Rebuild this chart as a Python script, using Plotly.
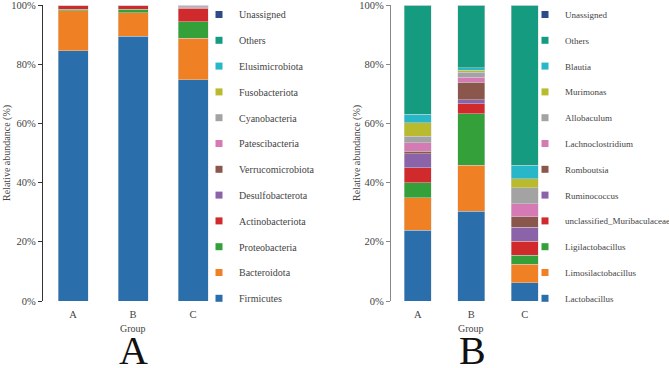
import plotly.graph_objects as go

groups = ["A", "B", "C"]

phyla = ["Firmicutes", "Bacteroidota", "Proteobacteria", "Actinobacteriota",
         "Desulfobacterota", "Verrucomicrobiota", "Patescibacteria", "Cyanobacteria",
         "Fusobacteriota", "Elusimicrobiota", "Others", "Unassigned"]
phylum_A = [84.5, 13.6, 0.45, 1.15, 0.05, 0.05, 0.02, 0.10, 0.01, 0.01, 0.05, 0.01]
phylum_B = [89.5, 7.9, 1.25, 1.05, 0.05, 0.03, 0.02, 0.10, 0.01, 0.01, 0.07, 0.01]
phylum_C = [74.7, 14.1, 5.6, 4.5, 0.30, 0.45, 0.05, 0.20, 0.01, 0.01, 0.07, 0.01]

genera = ["Lactobacillus", "Limosilactobacillus", "Ligilactobacillus",
          "unclassified_Muribaculaceae", "Ruminococcus", "Romboutsia",
          "Lachnoclostridium", "Allobaculum", "Murimonas", "Blautia", "Others", "Unassigned"]
genus_A = [23.9, 10.9, 5.2, 5.0, 4.7, 0.9, 2.9, 2.2, 4.6, 2.8, 36.9, 0.0]
genus_B = [30.3, 15.5, 17.4, 3.4, 1.35, 5.9, 1.8, 1.6, 0.7, 0.8, 21.25, 0.0]
genus_C = [6.2, 6.3, 2.9, 4.8, 4.8, 3.4, 4.5, 5.4, 3.0, 4.5, 54.2, 0.0]

y_ticks = [0, 20, 40, 60, 80, 100]
y_tick_labels = ["0%", "20%", "40%", "60%", "80%", "100%"]

colors = ["#2a6eab", "#f08024", "#33a03a", "#d12a2c", "#8a63a9", "#8b574d",
          "#d57ab5", "#a3a3a3", "#b9ba2e", "#27b7c9", "#159b80", "#2c4b87"]

W, H = 669, 368
FONT = "Liberation Serif, Times New Roman, serif"

def px_x(p):
    return p / W

def px_y(p):
    return 1 - p / H

fig = go.Figure()

def add_panel(names, vals_by_group, xa, ya, legend_name):
    n = len(names)
    for i, name in enumerate(names):
        vals = [vg[i] for vg in vals_by_group]
        fig.add_trace(go.Bar(
            x=groups, y=vals, name=name, xaxis=xa, yaxis=ya,
            marker=dict(color=colors[i], line=dict(color="rgba(215,215,215,0.9)", width=0.5)),
            showlegend=False, legend=legend_name,
            hovertemplate=name + ": %{y:.2f}%<extra></extra>"))
        fig.add_trace(go.Scatter(
            x=[None], y=[None], mode="markers", name=name, xaxis=xa, yaxis=ya,
            marker=dict(symbol="square", size=7, color=colors[i]),
            legend=legend_name, legendgroup=legend_name + str(i),
            legendrank=100 + (n - i), showlegend=True))

add_panel(phyla, [phylum_A, phylum_B, phylum_C], "x", "y", "legend")
add_panel(genera, [genus_A, genus_B, genus_C], "x2", "y2", "legend2")

ydom = [px_y(301), px_y(5)]

def yaxis(linecolor, anchor):
    return dict(domain=ydom, range=[0, 100.001], tickmode="array",
                tickvals=y_ticks, ticktext=y_tick_labels, ticklabeloverflow="allow",
                automargin=False,
                showline=True, linecolor=linecolor, linewidth=1.2,
                ticks="outside", ticklen=4, tickcolor=linecolor,
                showgrid=False, zeroline=False, anchor=anchor,
                tickfont=dict(family=FONT, size=10.5, color="#444"))

def xaxis(dom, anchor):
    return dict(domain=dom, range=[-0.5, 2.5], type="category",
                categoryorder="array", categoryarray=groups, automargin=False,
                showline=False, showgrid=False, zeroline=False, anchor=anchor,
                ticks="outside", ticklen=3, tickcolor="rgba(0,0,0,0)",
                tickfont=dict(family=FONT, size=10.5, color="#444"))

leg_common = dict(xanchor="left", yanchor="top", y=1.0,
                  traceorder="grouped", tracegroupgap=6.8,
                  bgcolor="rgba(0,0,0,0)", borderwidth=0,
                  itemclick=False, itemdoubleclick=False)

fig.update_layout(
    width=W, height=H, margin=dict(l=0, r=0, t=0, b=0, autoexpand=False),
    paper_bgcolor="white", plot_bgcolor="white",
    barmode="stack", bargap=0.5,
    font=dict(family=FONT, color="#444"),
    xaxis=xaxis([px_x(43), px_x(223)], "y"),
    yaxis=yaxis("#333", "x"),
    xaxis2=xaxis([px_x(391), px_x(551.5)], "y2"),
    yaxis2=yaxis("#888", "x2"),
    legend=dict(x=px_x(199), font=dict(family=FONT, size=10, color="#444"), **leg_common),
    legend2=dict(x=px_x(525), font=dict(family=FONT, size=9, color="#444"), **leg_common),
    showlegend=True,
)

ann = [
    dict(text="Relative abundance (%)", x=px_x(7), y=px_y(153), textangle=-90, size=10),
    dict(text="Relative abundance (%)", x=px_x(357), y=px_y(153), textangle=-90, size=10),
    dict(text="Group", x=px_x(133), y=px_y(328), textangle=0, size=10),
    dict(text="Group", x=px_x(471), y=px_y(328), textangle=0, size=10),
    dict(text="A", x=px_x(133), y=px_y(350), textangle=0, size=40),
    dict(text="B", x=px_x(472), y=px_y(350), textangle=0, size=40),
]
for a in ann:
    fig.add_annotation(text=a["text"], x=a["x"], y=a["y"], xref="paper", yref="paper",
                       xanchor="center", yanchor="middle", showarrow=False,
                       textangle=a["textangle"], borderpad=0,
                       font=dict(family=FONT, size=a["size"],
                                 color="#111" if a["size"] > 20 else "#444"))

fig.write_html("out.html")
